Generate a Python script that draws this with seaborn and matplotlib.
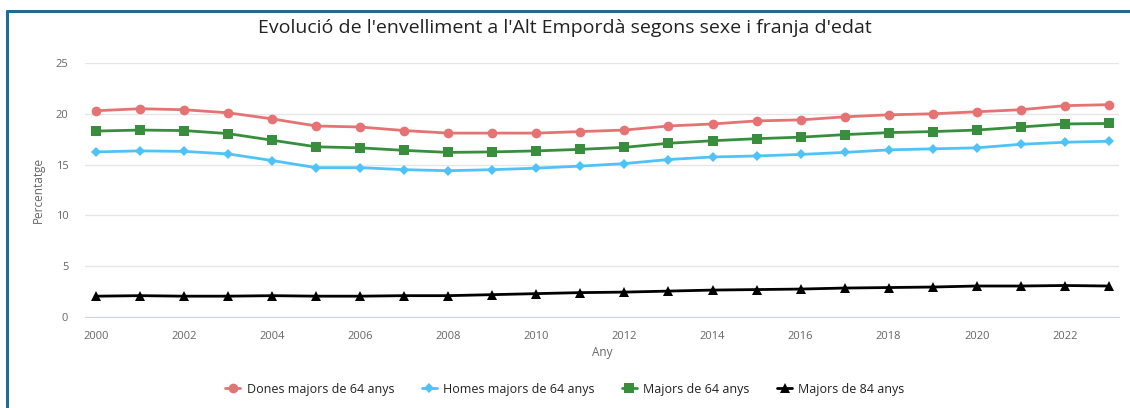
import pandas as pd
import matplotlib.pyplot as plt
import seaborn as sns
from matplotlib.lines import Line2D

# Data
anys = list(range(2000, 2024))
dones_64 = [20.3, 20.5, 20.4, 20.1, 19.5, 18.8, 18.7, 18.35, 18.1, 18.1, 18.1, 18.25,
            18.4, 18.8, 19.0, 19.3, 19.4, 19.7, 19.9, 20.0, 20.2, 20.4, 20.8, 20.9]
homes_64 = [16.25, 16.35, 16.3, 16.05, 15.4, 14.7, 14.7, 14.5, 14.4, 14.5, 14.65, 14.85,
            15.1, 15.5, 15.75, 15.85, 16.0, 16.2, 16.45, 16.55, 16.65, 17.0, 17.2, 17.3]
majors_64 = [18.3, 18.4, 18.35, 18.05, 17.4, 16.75, 16.65, 16.4, 16.2, 16.25, 16.35, 16.5,
             16.7, 17.1, 17.35, 17.55, 17.7, 17.95, 18.15, 18.25, 18.4, 18.7, 19.0, 19.05]
majors_84 = [2.05, 2.1, 2.05, 2.05, 2.1, 2.05, 2.05, 2.1, 2.1, 2.2, 2.3, 2.4,
             2.45, 2.55, 2.65, 2.7, 2.75, 2.85, 2.9, 2.95, 3.05, 3.05, 3.1, 3.05]

series = ['Dones majors de 64 anys', 'Homes majors de 64 anys',
          'Majors de 64 anys', 'Majors de 84 anys']
colors = ['#e57373', '#4fc3f7', '#388e3c', '#000000']
markers = ['o', 'D', 's', '^']
sizes = [7, 5, 7, 7]

df = pd.DataFrame({'Any': anys * 4,
                   'valor': dones_64 + homes_64 + majors_64 + majors_84,
                   'serie': [s for s in series for _ in anys]})

sns.set_style('white')
plt.rcParams['font.family'] = ['Open Sans', 'DejaVu Sans']

fig = plt.figure(figsize=(11.3, 4.08), dpi=100)
ax = fig.add_axes([85 / 1130, 1 - 317 / 408, (1119 - 85) / 1130, (317 - 63) / 408])

for s, c, m, ms in zip(series, colors, markers, sizes):
    sns.lineplot(data=df[df['serie'] == s], x='Any', y='valor', color=c, marker=m,
                 markersize=ms, markeredgewidth=0, linewidth=2, ax=ax, legend=False)

ax.set_xlim(1999.75, 2023.23)
ax.set_ylim(0, 25)
ax.set_xticks(range(2000, 2023, 2))
ax.set_yticks(range(0, 26, 5))
ax.yaxis.grid(True, color='#e6e6e6', linewidth=1)
ax.xaxis.grid(False)
for sp in ['top', 'right', 'left']:
    ax.spines[sp].set_visible(False)
ax.spines['bottom'].set_color('#ccd6eb')
ax.tick_params(axis='x', colors='#666666', labelsize=8, length=8, width=1, direction='out',
               pad=2)
ax.tick_params(axis='x', color='#ccd6eb')
ax.tick_params(axis='y', colors='#666666', labelsize=8, length=0, pad=12)
ax.set_xlabel('Any', color='#666666', fontsize=8.5, labelpad=3)
ax.set_ylabel('Percentatge', color='#666666', fontsize=8.5, labelpad=8)

fig.suptitle("Evolució de l'envelliment a l'Alt Empordà segons sexe i franja d'edat",
             x=0.5, y=1 - 28 / 408, va='center', fontsize=14, color='#222222')

handles = [Line2D([], [], color=c, marker=m, markersize=ms, markeredgewidth=0, linewidth=2)
           for c, m, ms in zip(colors, markers, sizes)]
fig.legend(handles, series, loc='center', bbox_to_anchor=(0.5, 1 - 389 / 408), ncol=4,
           frameon=False, fontsize=9, handlelength=1.2, handletextpad=0.5,
           columnspacing=2.2, labelcolor='#222222')

# frame lines on top and left side
fig.add_artist(Line2D([7 / 1130, 1], [1 - 11 / 408, 1 - 11 / 408], color='#1f6b94',
                      linewidth=2.2, transform=fig.transFigure))
fig.add_artist(Line2D([7 / 1130, 7 / 1130], [0, 1 - 11 / 408], color='#1f6b94',
                      linewidth=2.2, transform=fig.transFigure))

fig.savefig('out.png', dpi=100, facecolor='white')
